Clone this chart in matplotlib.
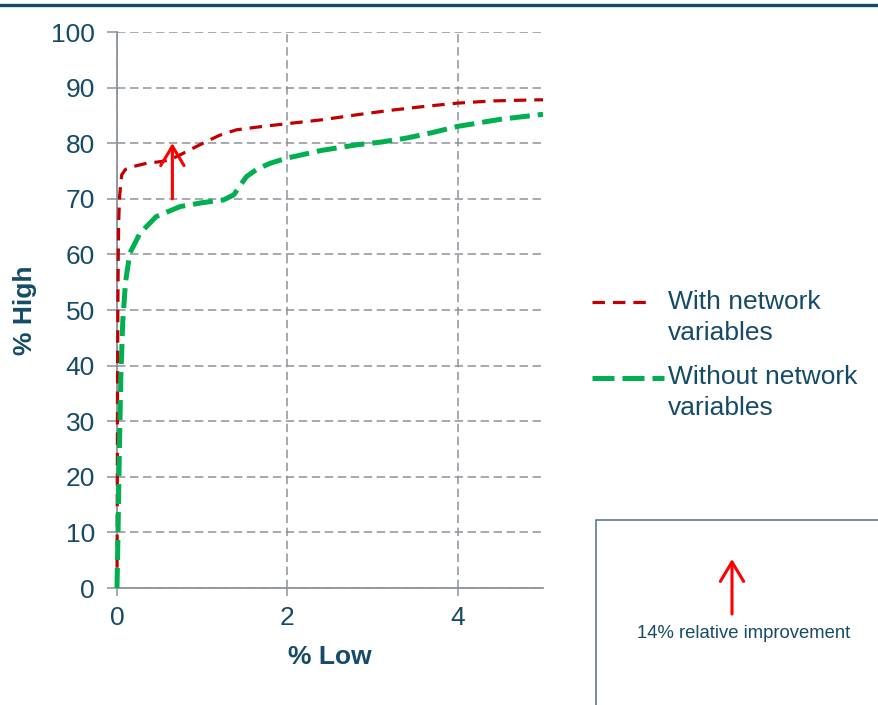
import matplotlib
matplotlib.use("Agg")
import matplotlib.pyplot as plt
from matplotlib.lines import Line2D
from matplotlib.patches import Rectangle, FancyArrowPatch

plt.rcParams['font.family'] = ['Liberation Sans', 'DejaVu Sans']

# Data
with_x = [0.0, 0.003, 0.006, 0.01, 0.015, 0.02, 0.03, 0.055, 0.1, 0.19, 0.35, 0.52, 0.62, 0.74, 0.88, 1.01, 1.2, 1.4, 1.7, 1.99, 2.4, 2.81, 3.2, 3.6, 3.99, 4.4, 4.93, 5.0]
with_y = [0.0, 15.0, 35.0, 50.0, 60.0, 66.0, 70.4, 74.3, 75.3, 75.8, 76.4, 76.7, 77.0, 77.9, 79.0, 80.0, 81.4, 82.4, 83.0, 83.5, 84.2, 85.1, 85.9, 86.6, 87.2, 87.6, 87.8, 87.8]

without_x = [0.0, 0.012, 0.028, 0.045, 0.068, 0.1, 0.15, 0.27, 0.46, 0.74, 1.0, 1.25, 1.37, 1.45, 1.52, 1.65, 1.80, 1.99, 2.4, 2.81, 3.1, 3.39, 3.7, 3.99, 4.5, 5.0]
without_y = [0.0, 10.0, 25.0, 38.0, 48.0, 55.0, 60.2, 63.8, 66.8, 68.6, 69.3, 69.8, 70.7, 72.5, 74.0, 75.4, 76.4, 77.3, 78.7, 79.7, 80.2, 80.9, 81.9, 83.0, 84.3, 85.2]

series_labels = ["With network\nvariables", "Without network\nvariables"]
x_ticks = [0, 2, 4]
y_ticks = list(range(0, 101, 10))
arrow_x = 0.65
arrow_from = 70
arrow_to = 80
note_text = "14% relative improvement"

TEXT = '#164B68'
GRID = '#8C939B'
RED = '#C00000'
GREEN = '#00B050'
ARROW = '#FF0000'

fig = plt.figure(figsize=(8.79, 7.05), dpi=100)
W, H = 879, 705
ax = fig.add_axes([117 / W, 1 - 588 / H, (543 - 117) / W, (588 - 32) / H])

red_style = dict(color=RED, lw=2.3, dashes=(3.9, 2.5))
green_style = dict(color=GREEN, lw=3.6, dashes=(4.0, 1.6))

ax.plot(with_x, with_y, **red_style, zorder=3, clip_on=False)
ax.plot(without_x, without_y, **green_style, zorder=3, clip_on=False)

ax.set_xlim(0, 5)
ax.set_ylim(0, 100)
ax.set_xticks(x_ticks)
ax.set_yticks(y_ticks)

for s in ['top', 'right']:
    ax.spines[s].set_visible(False)
for s in ['left', 'bottom']:
    ax.spines[s].set_color(GRID)
    ax.spines[s].set_linewidth(1.3)

ax.grid(True, color=GRID, lw=1.1, linestyle=(0, (5.5, 3)))
ax.set_axisbelow(True)
ax.tick_params(axis='both', direction='out', color=GRID, width=1.1,
               labelsize=19, labelcolor=TEXT)
ax.tick_params(axis='y', length=7, pad=9)
ax.tick_params(axis='x', length=6, pad=7)

ax.set_xlabel("% Low", fontsize=19, fontweight='bold', color=TEXT, va='center')
ax.xaxis.set_label_coords(0.5, (588 - 657) / 556)
ax.set_ylabel("% High", fontsize=19, fontweight='bold', color=TEXT, va='center')
ax.yaxis.set_label_coords((25 - 117) / 426, 0.5)

# arrow in chart
ax.annotate("", xy=(arrow_x, arrow_to), xytext=(arrow_x, arrow_from),
            arrowprops=dict(arrowstyle='->,head_length=0.5,head_width=0.3', color=ARROW, lw=2.2,
                            mutation_scale=28, shrinkA=0, shrinkB=0),
            zorder=4)

# top rule
fig.add_artist(Line2D([0, 1], [1 - 5 / H, 1 - 5 / H], color='#124A6A', lw=2.4,
                      transform=fig.transFigure))

# legend (manual)
def fx(px):
    return px / W

def fy(py):
    return 1 - py / H

fig.add_artist(Line2D([fx(592), fx(651)], [fy(302), fy(302)], **red_style,
                      transform=fig.transFigure))
fig.add_artist(Line2D([fx(592), fx(664)], [fy(378), fy(378)], color=GREEN, lw=3.6,
                      dashes=(4.4, 1.6), transform=fig.transFigure))
fig.text(fx(668), fy(302), series_labels[0].split("\n")[0], fontsize=19, color=TEXT, va='center', ha='left')
fig.text(fx(668), fy(333), series_labels[0].split("\n")[1], fontsize=19, color=TEXT, va='center', ha='left')
fig.text(fx(668), fy(377), series_labels[1].split("\n")[0], fontsize=19, color=TEXT, va='center', ha='left')
fig.text(fx(668), fy(408), series_labels[1].split("\n")[1], fontsize=19, color=TEXT, va='center', ha='left')

# box
fig.add_artist(Rectangle((fx(596), fy(720)), fx(300), (720 - 520) / H,
                         fill=False, edgecolor='#5E7B8F', lw=1.2,
                         transform=fig.transFigure))
fig.add_artist(FancyArrowPatch(
    (fx(732), fy(614)), (fx(732), fy(559)),
    arrowstyle='->,head_length=0.5,head_width=0.3', color=ARROW,
    lw=2.2, mutation_scale=28, shrinkA=0, shrinkB=0, transform=fig.transFigure))
fig.text(fx(744), fy(633), note_text, fontsize=13.3, color=TEXT, ha='center', va='center')

fig.savefig("out.png", dpi=100)
